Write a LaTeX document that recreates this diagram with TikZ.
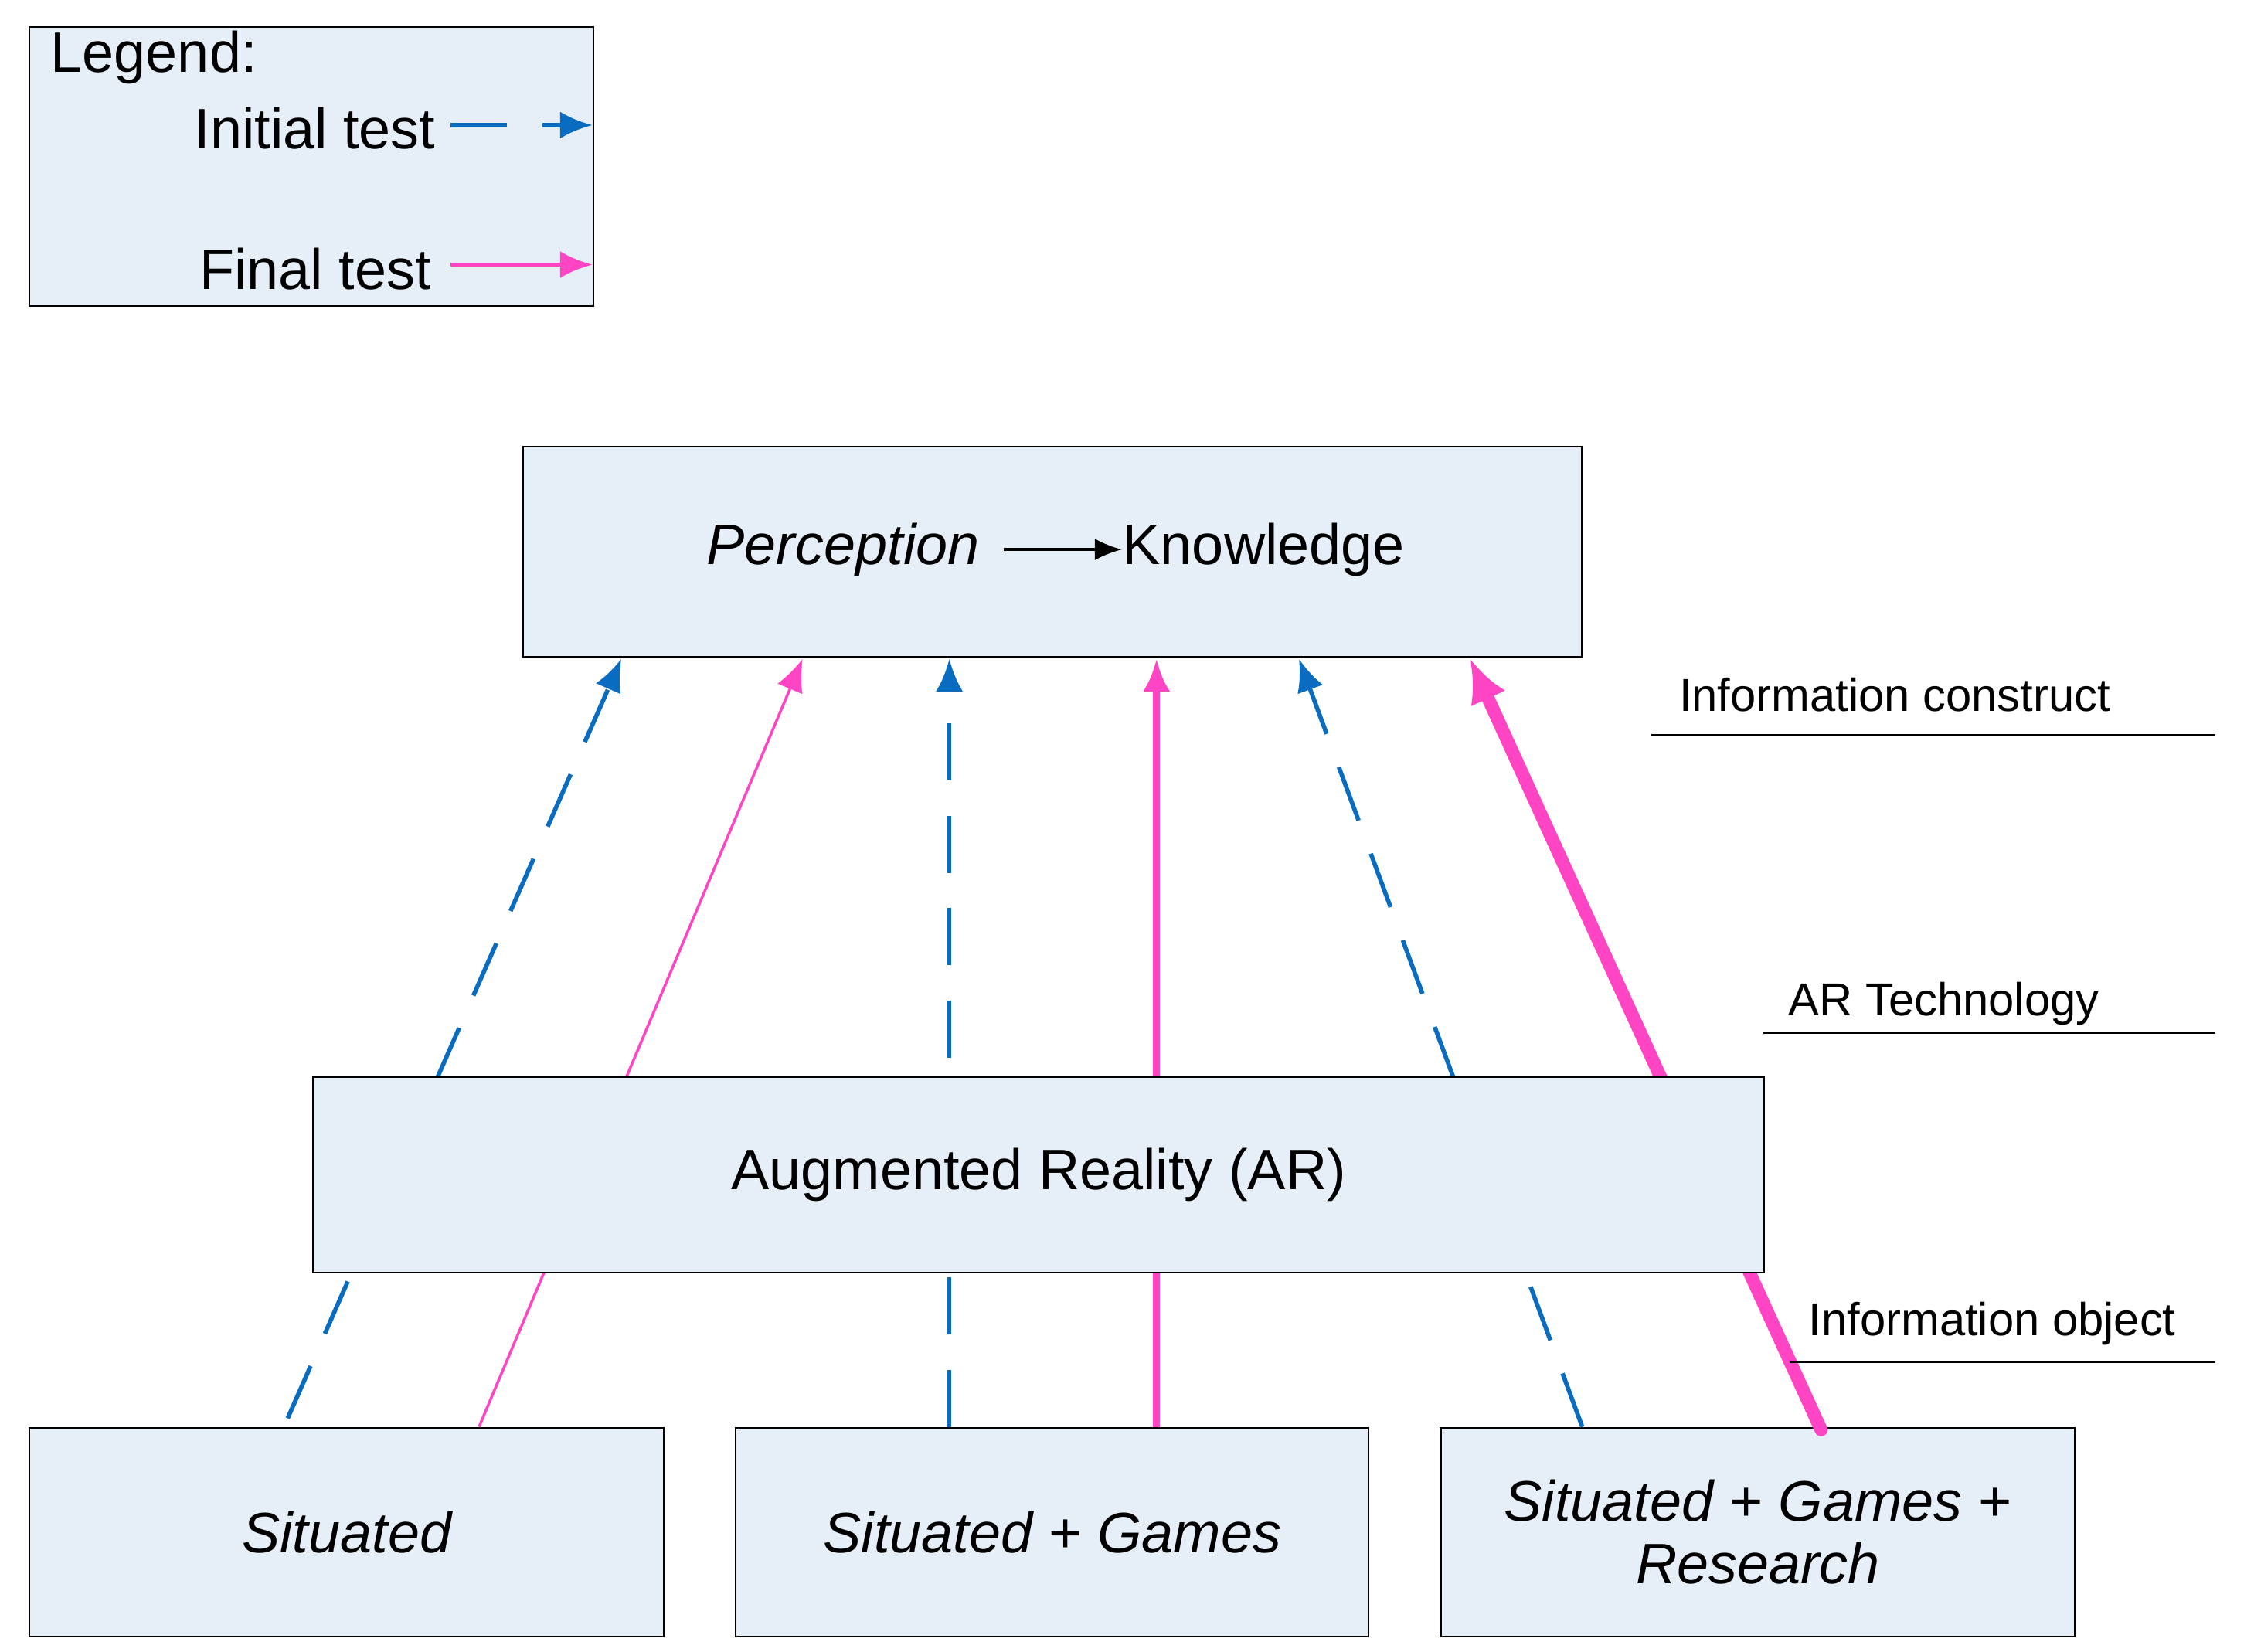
\documentclass[tikz,border=0pt]{standalone}
\usepackage{fontspec}
\setmainfont{Liberation Sans}
\usetikzlibrary{arrows.meta,positioning}
\definecolor{boxfill}{HTML}{E6EEF8}
\definecolor{initblue}{HTML}{0A6CC0}
\definecolor{finpink}{HTML}{FF44C4}
\tikzset{
  box/.style={draw=black,fill=boxfill,line width=0.6pt,inner sep=0pt},
  initial/.style={draw=initblue,line width=1.6pt,dash pattern=on 21pt off 13pt,-{Latex[length=12pt,width=10pt]}},
  final/.style={draw=finpink,-{Latex[length=12pt,width=10pt]}},
  lbl/.style={font=\fontsize{17}{20}\selectfont,anchor=west,inner sep=0pt},
  big/.style={font=\fontsize{21}{25}\selectfont}
}
\begin{document}
\begin{tikzpicture}[x=0.018615cm,y=-0.018615cm]
    \useasboundingbox (0,0) rectangle (1560,1148);
    % legend
    \node[box,minimum width=392*0.018615cm,minimum height=194*0.018615cm,anchor=north west] (legend) at (20,18) {};
    \node[big,anchor=west,inner sep=0pt] (legtitle) at (35,40) {Legend:};
    \node[big,anchor=east,inner sep=0pt] (inittxt) at (303,89) {Initial test};
    \node[big,anchor=east,inner sep=0pt] (fintxt) at (300,187) {Final test};
    \coordinate (i1) at (313,87); \coordinate (i2) at (412,87);
    \coordinate (f1) at (313,184); \coordinate (f2) at (412,184);
    \draw[initial] (i1) -- (i2);
    \draw[final,line width=1.6pt] (f1) -- (f2);

    % top box
    \node[box,minimum width=736*0.018615cm,minimum height=146*0.018615cm,anchor=north west] (top) at (363,310) {};
    \node[big,anchor=west,inner sep=0pt] (perc) at (491,382) {\itshape Perception};
    \node[big,anchor=west,inner sep=0pt] (know) at (780,382) {Knowledge};
    \draw[line width=1pt,-{Latex[length=10pt,width=8pt]}] (698,382) -- (know.west);

    % bottom boxes
    \node[box,minimum width=441*0.018615cm,minimum height=145*0.018615cm,anchor=north west,big] (sit) at (20,992) {\itshape Situated};
    \node[box,minimum width=440*0.018615cm,minimum height=145*0.018615cm,anchor=north west,big] (sitg) at (511,992) {\itshape Situated + Games};
    \node[box,minimum width=441*0.018615cm,minimum height=145*0.018615cm,anchor=north west,big,align=center] (sitgr) at (1001,992) {\itshape Situated + Games +\\[-2pt]\itshape Research};

    % arrows
    \coordinate (a1) at (200,986); \coordinate (b1) at (432,458);
    \coordinate (a2) at (333,992); \coordinate (b2) at (558,458);
    \coordinate (a3) at (660,992); \coordinate (b3) at (660,458);
    \coordinate (a4) at (804,992); \coordinate (b4) at (804,458);
    \coordinate (a5) at (1100,992); \coordinate (b5) at (903,458);
    \coordinate (a6) at (1266,994); \coordinate (b6) at (1022,458);
    \draw[initial] (a1) -- (b1);
    \draw[final,line width=1pt] (a2) -- (b2);
    \draw[initial] (a3) -- (b3);
    \draw[final,line width=2.7pt] (a4) -- (b4);
    \draw[initial] (a5) -- (b5);
    \draw[final,line width=4.8pt,line cap=round,-{Latex[length=16pt,width=14pt]}] (a6) -- (b6);

    % AR box
    \node[box,minimum width=1009*0.018615cm,minimum height=136*0.018615cm,anchor=north west,big] (ar) at (217,748) {Augmented Reality (AR)};

    % side labels
    \node[lbl] (construct) at (1167,483) {Information construct};
    \node[lbl] (tech) at (1243,698) {AR Technology};
    \node[lbl] (object) at (1257,920) {Information object};
    \draw[line width=0.6pt] (1148,511) -- (1540,511);
    \draw[line width=0.6pt] (1226,718) -- (1540,718);
    \draw[line width=0.6pt] (1244,947) -- (1540,947);
\end{tikzpicture}
\end{document}
